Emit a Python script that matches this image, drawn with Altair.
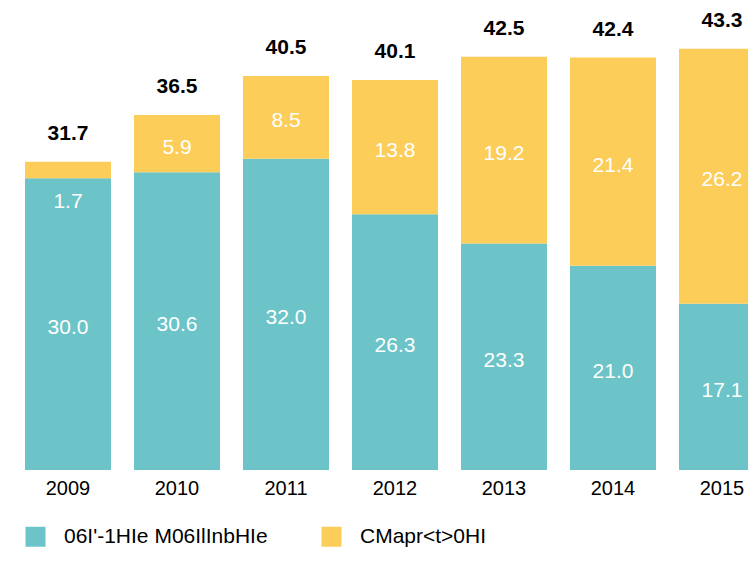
import altair as alt
import pandas as pd

years = ["2009", "2010", "2011", "2012", "2013", "2014", "2015"]
regular = [30.0, 30.6, 32.0, 26.3, 23.3, 21.0, 17.1]
smart = [1.7, 5.9, 8.5, 13.8, 19.2, 21.4, 26.2]
series_names = ["06I'-1HIe M06IlInbHIe", "CMapr<t>0HI"]
colors = ["#6CC4C8", "#FDCD5A"]

rows = []
for i, y in enumerate(years):
    rows.append({"year": y, "series": series_names[0], "value": regular[i], "ord": 0})
    rows.append({"year": y, "series": series_names[1], "value": smart[i], "ord": 1})
df = pd.DataFrame(rows)

FONT = "Liberation Sans"

x = alt.X("year:N", sort=years, title=None,
          scale=alt.Scale(range=[17, 757], paddingInner=0.211, paddingOuter=0),
          axis=alt.Axis(domain=False, ticks=False, labelAngle=0, labelFontSize=20,
                        labelFont=FONT, labelColor="#000000", labelPadding=8, grid=False))
yscale = alt.Scale(domain=[0, 47.5], nice=False, zero=True)

base = alt.Chart(df)

bars = base.mark_bar(size=86).encode(
    x=x,
    y=alt.Y("value:Q", stack="zero", scale=yscale, axis=None),
    color=alt.Color("series:N", sort=series_names,
                    scale=alt.Scale(domain=series_names, range=colors),
                    legend=alt.Legend(title=None, orient="none", direction="horizontal",
                                      legendX=17, legendY=518, symbolType="square",
                                      symbolSize=400, symbolStrokeWidth=0, symbolOpacity=1,
                                      labelFontSize=21, labelFont=FONT, labelColor="#000000",
                                      labelOffset=18, labelLimit=400, columnPadding=53,
                                      padding=0)),
    order=alt.Order("ord:Q"),
)

stacked = base.transform_stack(
    stack="value", groupby=["year"], as_=["v0", "v1"], sort=[alt.SortField("ord")]
).transform_calculate(
    mid="(datum.v0 + datum.v1) / 2"
)

labels_big = stacked.transform_filter("datum.value >= 3").mark_text(
    color="white", fontSize=21, font=FONT, baseline="middle", dy=4
).encode(
    x=alt.X("year:N", sort=years),
    y=alt.Y("mid:Q", scale=yscale),
    text=alt.Text("value:Q", format=".1f"),
)

labels_small = stacked.transform_filter("datum.value < 3").mark_text(
    color="white", fontSize=21, font=FONT, baseline="middle", dy=24
).encode(
    x=alt.X("year:N", sort=years),
    y=alt.Y("v0:Q", scale=yscale),
    text=alt.Text("value:Q", format=".1f"),
)

totals = base.transform_aggregate(total="sum(value)", groupby=["year"]).mark_text(
    color="#000000", fontSize=21, font=FONT, fontWeight="bold", baseline="middle", dy=-28
).encode(
    x=alt.X("year:N", sort=years),
    y=alt.Y("total:Q", scale=yscale),
    text=alt.Text("total:Q", format=".1f"),
)

chart = alt.layer(bars, labels_big, labels_small, totals).properties(
    width=740, height=462,
    autosize=alt.AutoSizeParams(type="none"),
    padding={"left": 0, "top": 0, "right": 0, "bottom": 78},
).configure_view(stroke=None)

chart.save("out.html", embed_options={"renderer": "svg", "actions": False})
